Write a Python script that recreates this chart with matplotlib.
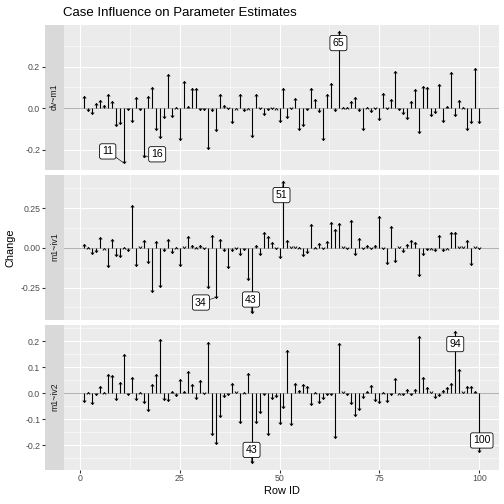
import numpy as np
import matplotlib.pyplot as plt
from matplotlib.path import Path

plt.rcParams['font.family'] = ['Liberation Sans', 'DejaVu Sans']

# --- data ---
row_id = np.arange(1, 101)

change_dv_m1 = [
    0.056, -0.013, -0.030, 0.027, 0.037, 0.013, 0.069, 0.032, -0.088, -0.077,
    -0.264, -0.008, -0.067, 0.054, -0.008, -0.237, 0.059, 0.102, -0.107, -0.144,
    -0.050, 0.165, -0.043, 0.003, -0.152, 0.131, 0.011, 0.099, 0.099, -0.008,
    -0.008, -0.197, -0.014, -0.110, 0.069, 0.014, -0.002, -0.072, 0.002, 0.069,
    -0.013, 0.002, -0.139, 0.069, -0.005, -0.034, -0.008, -0.005, 0.002, -0.068,
    0.099, -0.050, -0.005, 0.051, -0.106, -0.088, -0.008, 0.099, 0.046, -0.021,
    -0.152, 0.070, 0.120, -0.016, 0.371, 0.006, 0.006, 0.032, 0.054, -0.013,
    -0.104, 0.006, -0.018, -0.005, -0.056, 0.075, -0.003, 0.045, 0.181, -0.010,
    -0.026, -0.053, 0.032, 0.090, -0.122, 0.107, 0.102, -0.040, -0.024, 0.114,
    -0.069, 0.011, 0.174, -0.040, 0.037, 0.003, -0.104, -0.074, 0.194, -0.074]

change_m1_iv1 = [
    0.027, 0.008, -0.040, -0.023, 0.067, 0.002, -0.121, 0.058, -0.052, -0.056,
    0.008, -0.019, 0.273, -0.115, -0.002, 0.052, -0.094, -0.277, 0.042, -0.244,
    -0.017, 0.058, -0.035, 0.008, -0.113, -0.002, 0.077, 0.019, 0.008, 0.019,
    -0.008, -0.250, 0.079, -0.313, 0.058, -0.019, -0.129, -0.017, -0.006, -0.044,
    -0.015, -0.200, -0.410, 0.021, -0.044, 0.098, 0.073, 0.038, -0.010, -0.064,
    0.421, 0.052, -0.002, -0.002, 0.008, -0.052, -0.031, 0.148, 0.008, 0.033,
    -0.010, 0.042, 0.165, 0.121, 0.154, -0.002, -0.010, 0.177, -0.046, 0.065,
    -0.010, 0.019, -0.004, 0.019, 0.204, -0.006, -0.100, 0.140, -0.088, -0.002,
    -0.023, 0.027, 0.052, 0.035, -0.177, -0.044, -0.013, 0.002, -0.019, 0.083,
    -0.019, 0.002, 0.102, 0.102, -0.002, -0.002, 0.052, -0.108, -0.002, -0.010]

change_m1_iv2 = [
    -0.032, 0.004, -0.043, -0.006, 0.028, 0.003, 0.074, 0.070, -0.027, 0.043,
    0.150, -0.005, 0.062, -0.027, 0.003, -0.039, -0.070, 0.034, 0.074, 0.207,
    -0.027, -0.030, 0.008, -0.010, 0.055, 0.008, 0.085, 0.036, -0.024, 0.050,
    -0.004, 0.196, -0.160, -0.194, -0.093, -0.015, -0.005, 0.038, -0.001, -0.114,
    0.003, 0.076, -0.267, -0.114, -0.074, -0.007, -0.160, -0.023, -0.013, -0.118,
    -0.057, 0.166, -0.122, 0.039, 0.013, 0.036, 0.027, -0.046, 0.005, -0.039,
    -0.023, -0.006, -0.006, -0.173, 0.192, -0.001, -0.006, -0.042, -0.088, -0.065,
    -0.017, 0.008, 0.032, -0.028, -0.036, 0.003, -0.034, -0.006, 0.060, 0.000,
    -0.006, 0.017, -0.006, 0.017, 0.219, 0.062, 0.022, -0.001, -0.020, -0.010,
    0.013, 0.022, 0.041, 0.238, 0.093, -0.001, 0.028, 0.028, 0.009, -0.227]

facet_names = ["dv~m1", "m1~iv1", "m1~iv2"]
labelled_ids = [[11, 16, 65], [34, 43, 51], [43, 94, 100]]
major_ticks = [[-0.2, 0.0, 0.2], [-0.25, 0.0, 0.25], [-0.2, -0.1, 0.0, 0.1, 0.2]]
tick_labels = [["-0.2", "0.0", "0.2"], ["-0.25", "0.00", "0.25"],
               ["-0.2", "-0.1", "0.0", "0.1", "0.2"]]
minor_ticks = [[-0.1, 0.1, 0.3], [-0.375, -0.125, 0.125, 0.375],
               [-0.25, -0.15, -0.05, 0.05, 0.15, 0.25]]
x_ticks = [0, 25, 50, 75, 100]
x_minor = [12.5, 37.5, 62.5, 87.5]

# repel-style label offsets (points), per facet
label_offsets = [
    {11: (-16, 11.5), 16: (13.5, 3), 65: (-1, -12)},
    {34: (-14.7, -5), 43: (-0.6, 13.4), 51: (-2, -14)},
    {43: (0, 13), 94: (0, -13), 100: (2.5, 12)},
]

all_changes = [change_dv_m1, change_m1_iv1, change_m1_iv2]

# arrow-head style tips
up_head = Path([(-1, -1.2), (0, 0), (1, -1.2)], [Path.MOVETO, Path.LINETO, Path.LINETO])
down_head = Path([(-1, 1.2), (0, 0), (1, 1.2)], [Path.MOVETO, Path.LINETO, Path.LINETO])

W = H = 504
fig = plt.figure(figsize=(7, 7), dpi=72)

def box(x0, y0, x1, y1):
    return [x0 / W, 1 - y1 / H, (x1 - x0) / W, (y1 - y0) / H]

panel_left, panel_right = 64, 499
strip_left = 45
tops = [24.5, 174.5, 324.5]
ph = 145

for k in range(3):
    vals = np.array(all_changes[k])
    top = tops[k]
    ax = fig.add_axes(box(panel_left, top, panel_right, top + ph))
    sax = fig.add_axes(box(strip_left, top, panel_left, top + ph), sharey=ax)

    ax.set_facecolor('#EBEBEB')
    for s in ax.spines.values():
        s.set_visible(False)
    ax.set_axisbelow(True)

    ax.axhline(0, color='#B3B3B3', lw=1.0, zorder=1)
    ax.vlines(row_id, 0, vals, color='black', lw=1.1, zorder=2)
    pos = vals >= 0
    ax.plot(row_id[pos], vals[pos], ls='none', marker=up_head, ms=4,
            mec='black', mfc='none', mew=0.9, zorder=3)
    ax.plot(row_id[~pos], vals[~pos], ls='none', marker=down_head, ms=4,
            mec='black', mfc='none', mew=0.9, zorder=3)
    ax.margins(x=0.05, y=0.05)

    ax.set_xticks(x_ticks)
    ax.set_xticks(x_minor, minor=True)
    ax.set_yticks(major_ticks[k])
    ax.set_yticks(minor_ticks[k], minor=True)
    ax.grid(True, which='major', color='white', lw=1.07)
    ax.grid(True, which='minor', color='white', lw=0.55)
    ax.tick_params(axis='y', which='both', left=False, labelleft=False)
    ax.tick_params(axis='x', which='minor', bottom=False)
    if k < 2:
        ax.tick_params(axis='x', which='major', bottom=False, labelbottom=False)
    else:
        ax.tick_params(axis='x', which='major', length=2.75, width=1.07,
                       color='#333333', labelcolor='#4D4D4D', labelsize=8.8, pad=2)
        ax.set_xlabel("Row ID", fontsize=11, labelpad=3)

    for rid in labelled_ids[k]:
        v = vals[rid - 1]
        ax.annotate(str(rid), xy=(rid, v), xytext=label_offsets[k][rid],
                    textcoords='offset points', ha='center', va='center',
                    fontsize=10.5, color='black', zorder=5,
                    bbox=dict(boxstyle='round,pad=0.25,rounding_size=0.2',
                              fc='white', ec='black', lw=0.8),
                    arrowprops=dict(arrowstyle='-', color='black', lw=0.6,
                                    shrinkA=0, shrinkB=0))

    # strip on the left
    sax.set_facecolor('#D9D9D9')
    for s in sax.spines.values():
        s.set_visible(False)
    sax.set_xticks([])
    sax.set_yticks(major_ticks[k])
    sax.set_yticklabels(tick_labels[k])
    sax.tick_params(axis='y', which='minor', left=False, labelleft=False)
    sax.tick_params(axis='y', which='major', length=2.75, width=1.07,
                    color='#333333', labelcolor='#4D4D4D', labelsize=8.8, pad=2)
    sax.text(0.5, 0.5, facet_names[k], transform=sax.transAxes, rotation=90,
             ha='center', va='center', fontsize=8.8, color='#1A1A1A')

fig.text(11 / W, 1 - 248 / H, "Change", rotation=90, ha='center', va='center',
         fontsize=11)
fig.text(63 / W, 1 - 13 / H, "Case Influence on Parameter Estimates",
         ha='left', va='center', fontsize=13.2)

fig.savefig('out.png', dpi=72)
